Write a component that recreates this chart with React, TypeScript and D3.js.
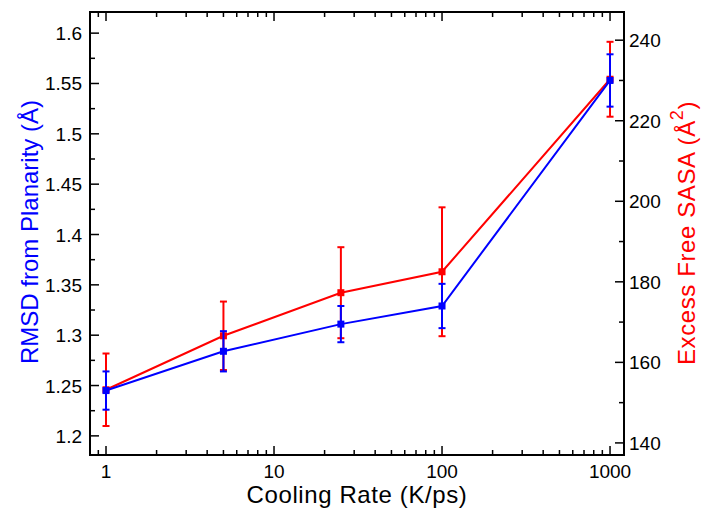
import * as d3 from "d3";

// cooling rates (K/ps)
const rates = [1, 5, 25, 100, 1000];
// RMSD from planarity (Å), left axis
const rmsd = [1.245, 1.284, 1.311, 1.329, 1.553];
const rmsdErr = [0.019, 0.02, 0.018, 0.022, 0.026];
// excess free SASA (Å^2), right axis
const sasa = [153.2, 166.6, 177.3, 182.5, 230.3];
const sasaErr = [9, 8.5, 11.3, 16, 9.3];

const xTicks = [1, 10, 100, 1000];
const leftTicks = [1.2, 1.25, 1.3, 1.35, 1.4, 1.45, 1.5, 1.55, 1.6];
const rightTicks = [140, 160, 180, 200, 220, 240];

const W = 701;
const H = 508;
const plot = { left: 90, right: 624, top: 12, bottom: 455 };

const BLUE = "#0000ff";
const RED = "#ff0000";
const FONT = "'Liberation Sans', Arial, sans-serif";

export default function App() {
  const x = d3.scaleLog().domain([0.803, 1211]).range([plot.left, plot.right]);
  const yL = d3.scaleLinear().domain([1.181, 1.621]).range([plot.bottom, plot.top]);
  const yR = d3.scaleLinear().domain([137.0, 247.0]).range([plot.bottom, plot.top]);

  // minor log ticks
  const xMinor: number[] = [];
  for (const dec of [0.1, 1, 10, 100, 1000]) {
    for (let k = 1; k <= 9; k++) {
      const v = dec * k;
      if (v >= 0.8 && v <= 1200 && !xTicks.includes(v)) xMinor.push(v);
    }
  }
  const leftMinor = d3.range(1.2, 1.62, 0.025).filter((v) => !leftTicks.some((t) => Math.abs(t - v) < 1e-6));
  const rightMinor = d3.range(140, 247, 10).filter((v) => !rightTicks.includes(v));

  const line = (ys: number[], sc: d3.ScaleLinear<number, number>) =>
    d3
      .line<number>()
      .x((_, i) => x(rates[i]))
      .y((d) => sc(d))(ys) as string;

  const series = (vals: number[], errs: number[], sc: d3.ScaleLinear<number, number>, color: string) => (
    <g>
      <path d={line(vals, sc)} fill="none" stroke={color} strokeWidth={2} />
      {vals.map((v, i) => {
        const cx = x(rates[i]);
        const t = sc(v + errs[i]);
        const b = sc(v - errs[i]);
        return (
          <g key={i} stroke={color} strokeWidth={2}>
            <line x1={cx} x2={cx} y1={t} y2={b} />
            <line x1={cx - 3.5} x2={cx + 3.5} y1={t} y2={t} />
            <line x1={cx - 3.5} x2={cx + 3.5} y1={b} y2={b} />
            <rect x={cx - 3.5} y={sc(v) - 3.5} width={7} height={7} fill={color} stroke="none" />
          </g>
        );
      })}
    </g>
  );

  return (
    <svg width={W} height={H} style={{ position: "absolute", left: 0, top: 0, background: "#fff" }} fontFamily={FONT}>
      {/* data */}
      {series(sasa, sasaErr, yR, RED)}
      {series(rmsd, rmsdErr, yL, BLUE)}

      {/* frame */}
      <rect
        x={plot.left}
        y={plot.top}
        width={plot.right - plot.left}
        height={plot.bottom - plot.top}
        fill="none"
        stroke="#000"
        strokeWidth={2}
      />

      {/* ticks */}
      <g stroke="#000" strokeWidth={1.5}>
        {xTicks.map((t) => (
          <g key={t}>
            <line x1={x(t)} x2={x(t)} y1={plot.bottom} y2={plot.bottom - 9} />
            <line x1={x(t)} x2={x(t)} y1={plot.top} y2={plot.top + 9} />
          </g>
        ))}
        {xMinor.map((t) => (
          <g key={t}>
            <line x1={x(t)} x2={x(t)} y1={plot.bottom} y2={plot.bottom - 5} />
            <line x1={x(t)} x2={x(t)} y1={plot.top} y2={plot.top + 5} />
          </g>
        ))}
        {leftTicks.map((t) => (
          <line key={t} x1={plot.left} x2={plot.left + 9} y1={yL(t)} y2={yL(t)} />
        ))}
        {leftMinor.map((t) => (
          <line key={t} x1={plot.left} x2={plot.left + 5} y1={yL(t)} y2={yL(t)} />
        ))}
        {rightTicks.map((t) => (
          <line key={t} x1={plot.right} x2={plot.right - 9} y1={yR(t)} y2={yR(t)} />
        ))}
        {rightMinor.map((t) => (
          <line key={t} x1={plot.right} x2={plot.right - 5} y1={yR(t)} y2={yR(t)} />
        ))}
      </g>

      {/* tick labels */}
      <g fontSize={19} fill="#000">
        {xTicks.map((t) => (
          <text key={t} x={x(t)} y={plot.bottom + 23} textAnchor="middle">
            {t}
          </text>
        ))}
        {leftTicks.map((t) => (
          <text key={t} x={plot.left - 8} y={yL(t) + 7} textAnchor="end">
            {t}
          </text>
        ))}
        {rightTicks.map((t) => (
          <text key={t} x={plot.right + 5} y={yR(t) + 7} textAnchor="start">
            {t}
          </text>
        ))}
      </g>

      {/* axis titles */}
      <text
        x={(plot.left + plot.right) / 2}
        y={503}
        textAnchor="middle"
        fontSize={24}
        letterSpacing={0.6}
        fill="#000"
      >
        Cooling Rate (K/ps)
      </text>
      <text
        transform={`translate(38,${232}) rotate(-90)`}
        textAnchor="middle"
        fontSize={24}
        fill={BLUE}
      >
        RMSD from Planarity (Å)
      </text>
      <text
        transform={`translate(695,${233}) rotate(-90)`}
        textAnchor="middle"
        fontSize={24}
        letterSpacing={0.6}
        fill={RED}
      >
        Excess Free SASA (Å
        <tspan dy={-12} fontSize={18}>2</tspan>
        <tspan dy={12}>)</tspan>
      </text>
    </svg>
  );
}
